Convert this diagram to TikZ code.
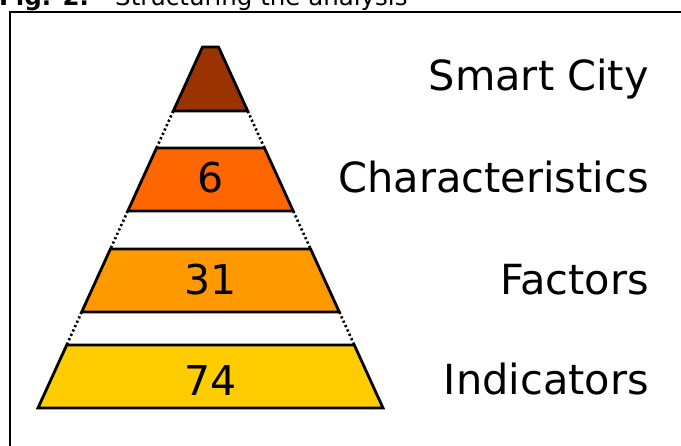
\documentclass[tikz,border=0pt]{standalone}
\usepackage{fontspec}
\setmainfont{DejaVu Sans}
\definecolor{lvA}{HTML}{993300}
\definecolor{lvB}{HTML}{FF6600}
\definecolor{lvC}{HTML}{FF9900}
\definecolor{lvD}{HTML}{FFCC00}
\begin{document}
\begin{tikzpicture}[x=1pt,y=-1pt,
  layer/.style={draw=black,line width=2.8pt,line join=miter},
  dotline/.style={draw=black,line width=2.6pt,dash pattern=on 2.2pt off 2.6pt},
  numtext/.style={font=\fontsize{41}{48}\selectfont,anchor=base,inner sep=0pt},
  lbltext/.style={font=\fontsize{41.5}{48}\selectfont,anchor=base east,inner sep=0pt},
  captext/.style={font=\fontsize{24.5}{29}\selectfont,anchor=base west,inner sep=0pt},
  frameline/.style={draw=black,line width=2.8pt}]
\useasboundingbox (0,0) rectangle (681,446);
% caption (cut off at the top edge, as in the reference)
\node[captext] (capa) at (-1,5.5) {\textbf{Fig. 2.}};
\node[captext] (capb) at (115,5.5) {Structuring the analysis};
% frame
\coordinate (fbl) at (10,450);
\coordinate (ftl) at (10,12);
\coordinate (ftr) at (685,12);
\draw[frameline] (fbl) -- (ftl) -- (ftr);
% layer corners
\coordinate (a1) at (202.5,47);  \coordinate (b1) at (218.5,47);
\coordinate (c1) at (247.7,111); \coordinate (d1) at (173.3,111);
\coordinate (a2) at (156.5,148); \coordinate (b2) at (264.5,148);
\coordinate (c2) at (293.2,211); \coordinate (d2) at (127.8,211);
\coordinate (a3) at (110.4,249); \coordinate (b3) at (310.6,249);
\coordinate (c3) at (339.3,312); \coordinate (d3) at (81.7,312);
\coordinate (a4) at (66.7,345);  \coordinate (b4) at (354.3,345);
\coordinate (c4) at (383,408);   \coordinate (d4) at (38,408);
% dotted connectors
\draw[dotline] (d1) -- (a2);
\draw[dotline] (c1) -- (b2);
\draw[dotline] (d2) -- (a3);
\draw[dotline] (c2) -- (b3);
\draw[dotline] (d3) -- (a4);
\draw[dotline] (c3) -- (b4);
% layers
\filldraw[layer,fill=lvA] (a1) -- (b1) -- (c1) -- (d1) -- cycle;
\filldraw[layer,fill=lvB] (a2) -- (b2) -- (c2) -- (d2) -- cycle;
\filldraw[layer,fill=lvC] (a3) -- (b3) -- (c3) -- (d3) -- cycle;
\filldraw[layer,fill=lvD] (a4) -- (b4) -- (c4) -- (d4) -- cycle;
% numbers
\node[numtext] (n2) at (210.5,193) {6};
\node[numtext] (n3) at (210.5,295) {31};
\node[numtext] (n4) at (210.5,396) {74};
% labels
\node[lbltext] (l1) at (649,91) {Smart City};
\node[lbltext] (l2) at (649,193) {Characteristics};
\node[lbltext] (l3) at (649,295) {Factors};
\node[lbltext] (l4) at (649,395) {Indicators};
\end{tikzpicture}
\end{document}
